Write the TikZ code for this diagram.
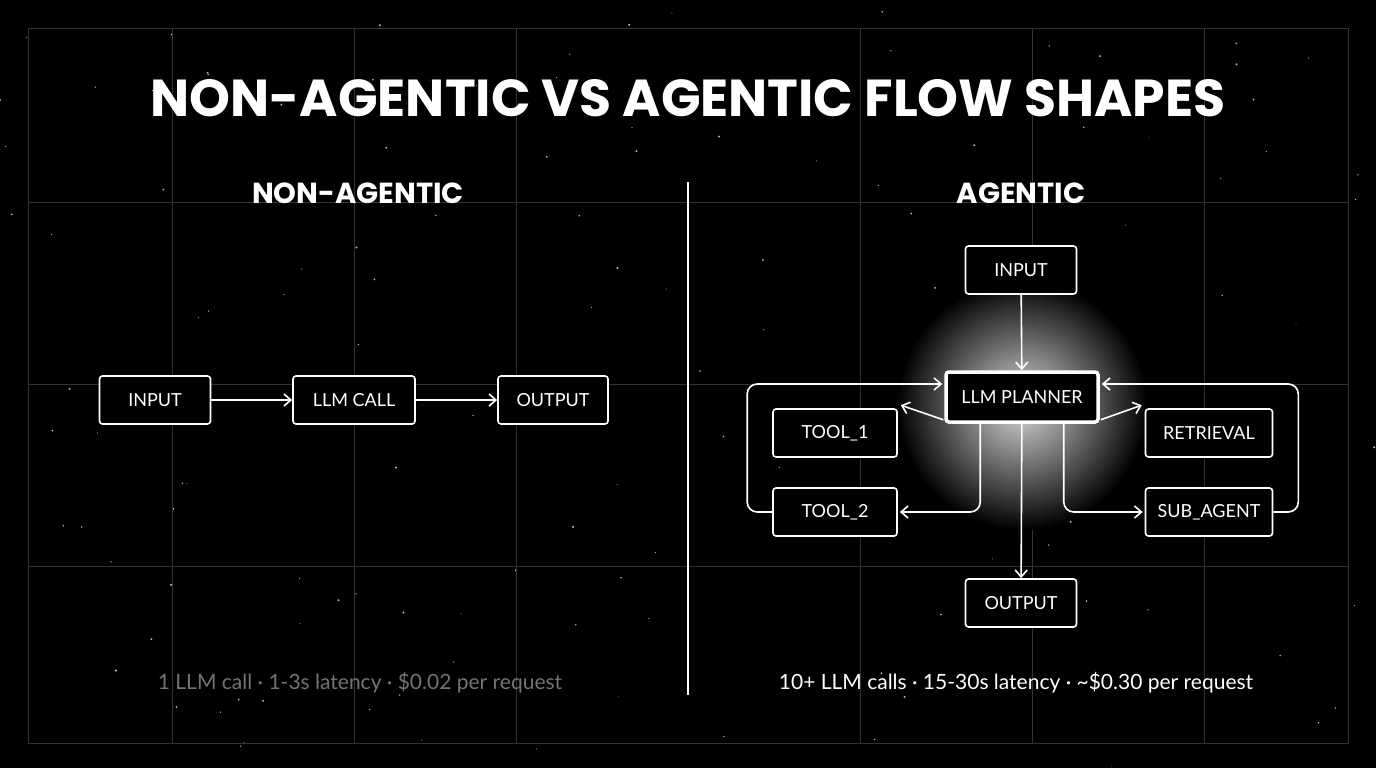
\documentclass[tikz,border=0pt]{standalone}
\usepackage{fontspec}
\setmainfont{Lato}
\newfontfamily\headfont{Poppins}
\usetikzlibrary{arrows.meta}
\begin{document}
\begin{tikzpicture}[x=1pt,y=-1pt,
  box/.style={draw=white,line width=1.6pt,rounded corners=3pt,fill=black,text=white,font=\fontsize{18}{18}\selectfont,minimum height=48pt,inner sep=0pt},
  arr/.style={draw=white,line width=1.6pt,-{Straight Barb[length=7pt,width=12pt]},rounded corners=10pt},
  grid/.style={draw=white!20!black,line width=0.6pt}]
\fill[black] (0,0) rectangle (1376,768);
\useasboundingbox (0,0) rectangle (1376,768);
\pgfmathsetseed{7}
\foreach \i in {1,...,140}{
  \pgfmathsetmacro\sx{rnd*1376}\pgfmathsetmacro\sy{rnd*768}\pgfmathsetmacro\sr{0.4+rnd*0.8}
  \fill[white!70!black] (\sx,\sy) circle (\sr);}
\foreach \x in {172,354,516,860,1032,1204} \draw[grid] (\x,28) -- (\x,743);
\foreach \y in {202,384,566} \draw[grid] (28,\y) -- (1348,\y);
\draw[grid] (28,28) rectangle (1348,743);
\shade[inner color=white!85!black,outer color=black] (1022,405) circle (125);
\node[text=white,font=\headfont\bfseries\fontsize{52}{52}\selectfont] (title) at (688,98) {NON-AGENTIC VS AGENTIC FLOW SHAPES};
\node[text=white,font=\headfont\bfseries\fontsize{29}{29}\selectfont] (h1) at (358,193) {NON-AGENTIC};
\node[text=white,font=\headfont\bfseries\fontsize{29}{29}\selectfont] (h2) at (1021,193) {AGENTIC};
\coordinate (d1) at (688,182); \coordinate (d2) at (688,695);
\draw[white,line width=1.6pt] (d1) -- (d2);
% left
\node[box,minimum width=111pt] (lin) at (155,400) {INPUT};
\node[box,minimum width=122pt] (llm) at (354,400) {LLM CALL};
\node[box,minimum width=110pt] (lout) at (553,400) {OUTPUT};
\draw[arr] (lin) -- (llm);
\draw[arr] (llm) -- (lout);
% right
\node[box,minimum width=111pt] (rin) at (1021,270) {INPUT};
\node[box,minimum width=152pt,minimum height=50pt,line width=3.5pt] (pl) at (1022,397) {LLM PLANNER};
\node[box,minimum width=124pt] (t1) at (835,433) {TOOL\_1};
\node[box,minimum width=124pt] (t2) at (835,512) {TOOL\_2};
\node[box,minimum width=127pt] (ret) at (1209,433) {RETRIEVAL};
\node[box,minimum width=127pt] (sub) at (1209,512) {SUB\_AGENT};
\node[box,minimum width=111pt] (rout) at (1021,603) {OUTPUT};
\draw[arr] (rin) -- (pl);
\draw[arr] (pl) -- (rout);
\draw[arr] ([shift={(-1,-4)}]pl.south west) -- ([shift={(3,-3)}]t1.north east);
\draw[arr] ([shift={(1,-4)}]pl.south east) -- ([shift={(-3,-3)}]ret.north west);
\draw[arr] ([xshift=36pt]pl.south west) |- ([xshift=2pt]t2.east);
\draw[arr] ([xshift=-36pt]pl.south east) |- ([xshift=-2pt]sub.west);
\draw[arr] (t2.west) -- ++(-25,0) |- ([shift={(-2,-13)}]pl.west);
\draw[arr] (sub.east) -- ++(25,0) |- ([shift={(2,-13)}]pl.east);
% footers
\node[text=white!45!black,font=\fontsize{21}{21}\selectfont] (f1) at (360,683) {1 LLM call · 1-3s latency · \$0.02 per request};
\node[text=white,font=\fontsize{21}{21}\selectfont] (f2) at (1016,683) {10+ LLM calls · 15-30s latency · \textasciitilde\$0.30 per request};
\end{tikzpicture}
\end{document}
